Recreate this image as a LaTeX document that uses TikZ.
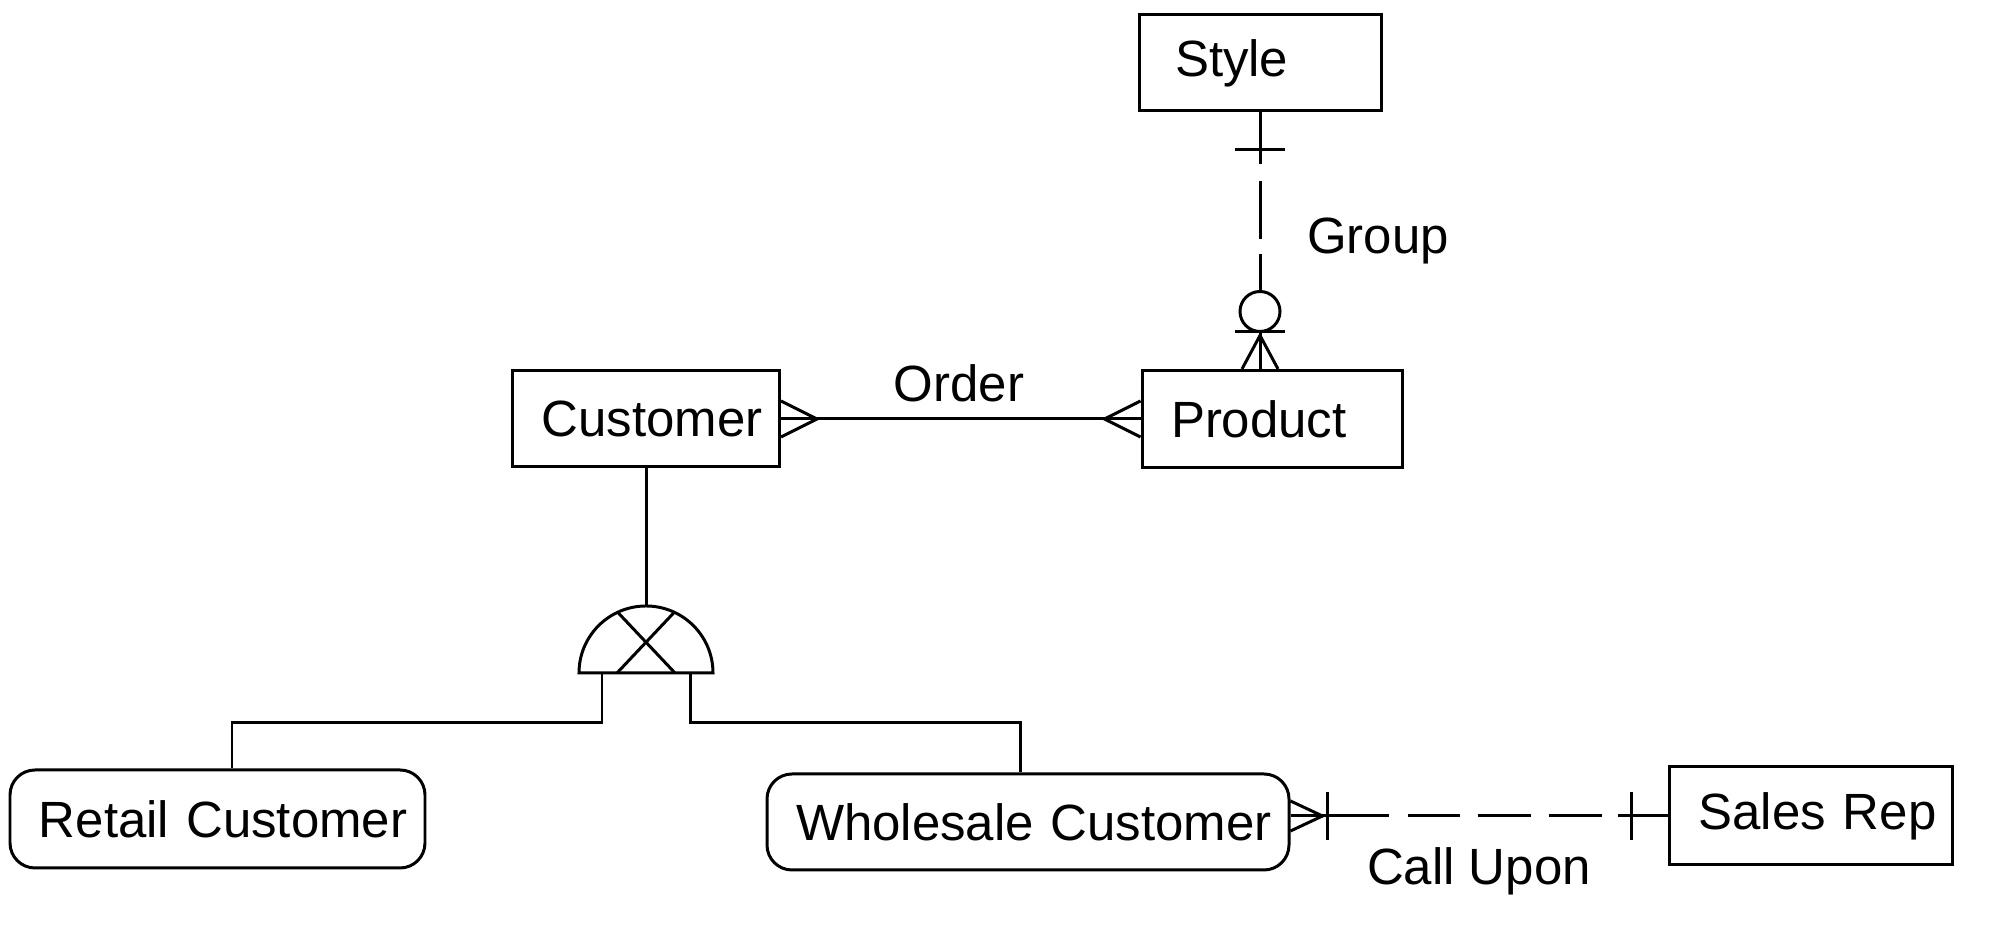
\documentclass[tikz,border=0pt]{standalone}
\usepackage{fontspec}
\setmainfont{Liberation Sans}
\usepackage{tikz}
\usetikzlibrary{calc}
\hbadness=10000 \hfuzz=5cm
\tikzset{
  %% Entity boxes
  entity/.style={
    rectangle, draw=black, line width=0.85pt,
    minimum height=0.96cm, inner ysep=0pt, inner xsep=0.29cm,
    align=left, font=\fontsize{14.5}{17}\selectfont},
  %% Subtype boxes
  subentity/.style={entity, rounded corners=0.25cm},
  %% Relationship lines
  rel/.style={line width=0.85pt, black},
  relname/.style={inner sep=0pt, font=\fontsize{14.5}{17}\selectfont},
}

\begin{document}
\begin{tikzpicture}
  \useasboundingbox (0,0) rectangle (19.91,9.30);

  %% Entities
  \node[entity, text width=1.70cm, inner xsep=0.36cm]         (style)     at (12.60,8.67) {\mbox{Style}};
  \node[entity, text width=2.02cm, minimum height=0.97cm]     (product)   at (12.72,5.11) {\mbox{Product}};
  \node[entity, text width=2.09cm]                            (customer)  at (6.46,5.11)  {\mbox{Customer}};
  \node[subentity, text width=3.57cm, minimum height=0.98cm]  (retail)    at (2.175,1.11) {\mbox{Retail Customer}};
  \node[subentity, text width=4.64cm]                         (wholesale) at (10.28,1.08) {\mbox{Wholesale Customer}};
  \node[entity, text width=2.25cm, minimum height=0.98cm]     (salesrep)  at (18.11,1.14) {\mbox{Sales Rep}};

  %% Relationship names
  \node[relname] (order)    at (9.59,5.47)  {Order};
  \node[relname] (group)    at (13.78,6.89) {Group};
  \node[relname] (callupon) at (14.79,0.59) {Call Upon};

  %% Order: many to many
  \draw[rel] (customer) -- (product);
  \draw[rel] ($(customer.east)+(0,0.18)$) -- ++(0.36,-0.18) -- ++(-0.36,-0.18);
  \draw[rel] ($(product.west)+(0,0.18)$) -- ++(-0.36,-0.18) -- ++(0.36,-0.18);

  %% Group: one style, zero or many products
  \coordinate (grpend) at (style.south |- product.north);
  \draw[rel, dash pattern=on 0.52cm off 0.17cm on 0.58cm off 0.15cm on 2cm off 0cm]
    (style.south) -- (grpend);
  \draw[rel] ($(style.south)+(-0.25,-0.37)$) -- ++(0.50,0);
  \draw[rel, fill=white] ($(grpend)+(0,0.575)$) circle (0.20);
  \draw[rel] ($(grpend)+(-0.25,0.375)$) -- ++(0.50,0);
  \draw[rel] ($(grpend)+(-0.18,0)$) -- ++(0.18,0.335) -- ++(0.18,-0.335);

  %% Call Upon: many wholesale customers, one sales rep
  \coordinate (callend) at (wholesale.east |- salesrep.west);
  \draw[rel, dash pattern=on 0.98cm off 0.19cm on 0.52cm off 0.18cm on 0.53cm off 0.18cm
        on 0.53cm off 0.16cm on 1cm off 0cm]
    (callend) -- (salesrep.west);
  \draw[rel] ($(callend)+(0,0.15)$) -- ++(0.32,-0.15) -- ++(-0.32,-0.15);
  \draw[rel] ($(callend)+(0.37,-0.24)$) -- ++(0,0.48);
  \draw[rel] ($(salesrep.west)+(-0.37,-0.24)$) -- ++(0,0.48);

  %% Exclusive subtype symbol
  \coordinate (cat) at (6.46,2.57);
  \draw[rel] (cat) ++(-0.67,0) arc[start angle=180, end angle=0, radius=0.67] -- cycle;
  \draw[rel] ($(cat)+(115:0.67)$) -- ($(cat)+(0.29,0)$);
  \draw[rel] ($(cat)+(65:0.67)$) -- ($(cat)+(-0.29,0)$);
  \draw[rel] (customer) -- ($(cat)+(0,0.67)$);
  \draw[rel] ($(cat)+(-0.44,0)$) -- ++(0,-0.50) -| ($(retail.north)+(0.145,0)$);
  \draw[rel] ($(cat)+(0.44,0)$) -- ++(0,-0.50) -| ($(wholesale.north)+(-0.08,0)$);

\end{tikzpicture}
\end{document}
